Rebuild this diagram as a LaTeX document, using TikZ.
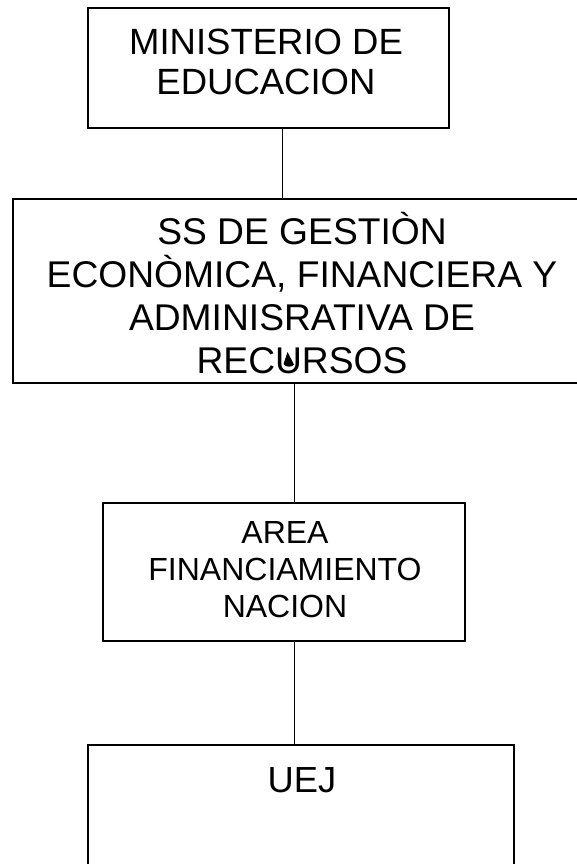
\documentclass[tikz,border=0pt]{standalone}
\usepackage{fontspec}
\setmainfont{Liberation Sans}
\begin{document}
\begin{tikzpicture}[x=1pt,y=-1pt,
  orgbox/.style={draw=black,line width=1.1pt,rectangle,inner sep=0pt,outer sep=0pt},
  boxtext/.style={align=center,inner sep=0pt,anchor=base},
  conn/.style={draw=black,line width=1pt}]
\useasboundingbox[fill=white] (0,0) rectangle (577,864);
% boxes
\node[orgbox,minimum width=361pt,minimum height=120pt] (b1) at (268.5,68) {};
\node[orgbox,minimum width=578pt,minimum height=184pt] (b2) at (302,291) {};
\node[orgbox,minimum width=362pt,minimum height=138pt] (b3) at (284,572) {};
\node[orgbox,minimum width=426pt,minimum height=154pt] (b4) at (301,822) {};
% texts (anchored at the baseline of the last line)
\node[boxtext,font=\fontsize{36.5}{40}\selectfont] (t1) at (266,95) {MINISTERIO DE\\EDUCACION};
\node[boxtext,font=\fontsize{37.2}{43}\selectfont] (t2) at (302,373) {SS DE GESTIÒN\\ECONÒMICA, FINANCIERA Y\\ADMINISRATIVA DE\\RECURSOS};
\node[boxtext,font=\fontsize{32}{37}\selectfont] (t3) at (285,617) {AREA\\FINANCIAMIENTO\\NACION};
\node[boxtext,font=\fontsize{36.3}{40}\selectfont] (t4) at (302,792) {UEJ};
% connectors
\draw[conn] ([xshift=13.5]b1.south) -- ([xshift=13.5]b1.south |- b2.north);
\draw[conn] ([xshift=10]b3.north |- b2.south) -- ([xshift=10]b3.north);
\draw[conn] ([xshift=10]b3.south) -- ([xshift=10]b3.south |- b4.north);
% small mark in RECURSOS
\fill[black] (287.5,352) -- (294,364.5) .. controls (292.5,367.5) and (285,367.5) .. (283.5,364) -- cycle;
\end{tikzpicture}
\end{document}
